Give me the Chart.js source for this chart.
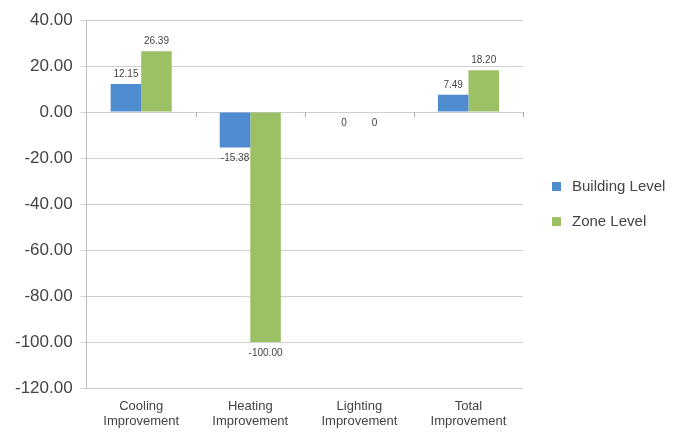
<!DOCTYPE html>
<html>
<head>
<meta charset="utf-8">
<script src="https://cdn.jsdelivr.net/npm/chart.js@4.4.1/dist/chart.umd.min.js"></script>
<style>
  html, body { margin: 0; padding: 0; background: #fff; }
  #wrap { width: 677px; height: 432px; position: relative; }
</style>
</head>
<body>
<div id="wrap"><canvas id="improvementChart"></canvas></div>
<script>
// categories and series
const categories = [
    ['Cooling', 'Improvement'],
    ['Heating', 'Improvement'],
    ['Lighting', 'Improvement'],
    ['Total', 'Improvement']
];
const buildingLevel = [12.15, -15.38, 0, 7.49];
const zoneLevel = [26.39, -100.00, 0, 18.20];
const valueLabels = [
    ['12.15', '-15.38', '0', '7.49'],
    ['26.39', '-100.00', '0', '18.20']
];

const FONT = '"Liberation Sans", Arial, Helvetica, sans-serif';
const TEXT = '#444';

// Excel-like data labels: above positive bars, below negative / zero ones
const barLabels = {
    id: 'barLabels',
    afterDatasetsDraw(chart) {
        const ctx = chart.ctx;
        ctx.save();
        ctx.font = '10px ' + FONT;
        ctx.fillStyle = TEXT;
        ctx.textAlign = 'center';
        chart.data.datasets.forEach((ds, i) => {
            chart.getDatasetMeta(i).data.forEach((bar, j) => {
                const v = ds.data[j];
                if (v > 0) {
                    ctx.textBaseline = 'bottom';
                    ctx.fillText(valueLabels[i][j], bar.x, bar.y - 5);
                } else {
                    ctx.textBaseline = 'top';
                    ctx.fillText(valueLabels[i][j], bar.x, bar.y + 6);
                }
            });
        });
        ctx.restore();
    }
};

// small category tick marks hanging from the zero line
const zeroTicks = {
    id: 'zeroTicks',
    afterDatasetsDraw(chart) {
        const x = chart.scales.x, y = chart.scales.y;
        const y0 = y.getPixelForValue(0);
        const half = (x.getPixelForValue(1) - x.getPixelForValue(0)) / 2;
        const ctx = chart.ctx;
        ctx.save();
        ctx.strokeStyle = '#aaa';
        ctx.lineWidth = 1;
        ctx.beginPath();
        for (let i = 0; i < categories.length; i++) {
            const px = Math.round(x.getPixelForValue(i) + half) + 0.5;
            ctx.moveTo(px, y0);
            ctx.lineTo(px, y0 + 5);
        }
        ctx.stroke();
        ctx.restore();
    }
};

// legend on the right, stacked and centred on the plot
const sideLegend = {
    id: 'sideLegend',
    afterDraw(chart) {
        const area = chart.chartArea;
        const ctx = chart.ctx;
        const sets = chart.data.datasets;
        const spacing = 35;
        const x = area.right + 29;
        const yMid = (area.top + area.bottom) / 2 - (sets.length - 1) * spacing / 2;
        ctx.save();
        ctx.font = '15px ' + FONT;
        ctx.textBaseline = 'middle';
        ctx.textAlign = 'left';
        sets.forEach((ds, i) => {
            const y = yMid + i * spacing;
            ctx.fillStyle = ds.backgroundColor;
            ctx.fillRect(x, y - 4.5, 9, 9);
            ctx.fillStyle = TEXT;
            ctx.fillText(ds.label, x + 20, y);
        });
        ctx.restore();
    }
};

const ctx = document.getElementById('improvementChart').getContext('2d');
new Chart(ctx, {
    type: 'bar',
    data: {
        labels: categories,
        datasets: [
            { label: 'Building Level', data: buildingLevel, backgroundColor: '#4f8ccf' },
            { label: 'Zone Level', data: zoneLevel, backgroundColor: '#9cc064' }
        ]
    },
    options: {
        responsive: true,
        maintainAspectRatio: false,
        animation: false,
        datasets: {
            bar: { categoryPercentage: 0.56, barPercentage: 1.0 }
        },
        layout: { padding: { top: 20, left: 7, right: 154, bottom: 0 } },
        plugins: {
            tooltip: { enabled: false },
            legend: { display: false }
        },
        scales: {
            x: {
                grid: { display: false },
                border: { display: false },
                ticks: { font: { family: FONT, size: 13, lineHeight: 1.15 }, color: TEXT, padding: 3, maxRotation: 0 }
            },
            y: {
                min: -120,
                max: 40,
                grid: { color: '#d0d0d0', tickLength: 6 },
                border: { display: true, color: '#bdbdbd' },
                ticks: {
                    stepSize: 20,
                    font: { family: FONT, size: 17 },
                    color: TEXT,
                    padding: 8,
                    callback: v => v.toFixed(2)
                }
            }
        }
    },
    plugins: [barLabels, zeroTicks, sideLegend]
});
</script>
</body>
</html>
